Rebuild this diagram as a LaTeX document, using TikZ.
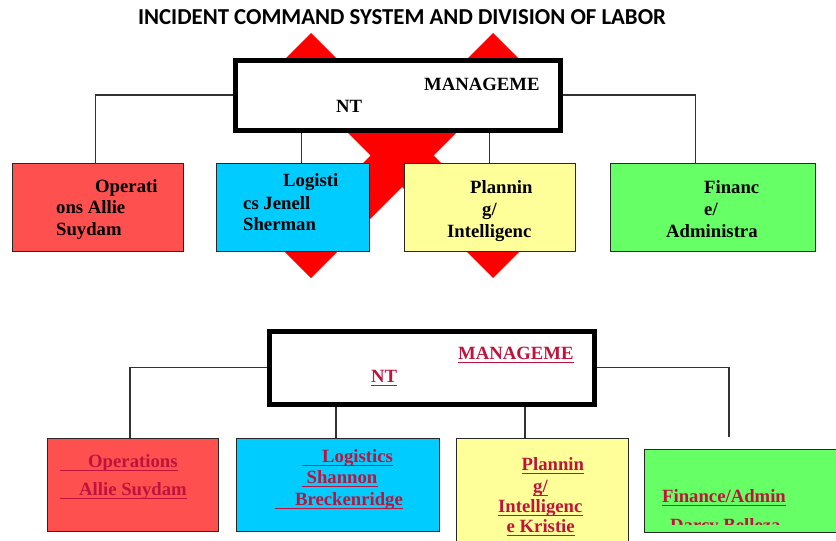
\documentclass[tikz,border=0pt]{standalone}
\usepackage{fontspec}
\setmainfont{Liberation Serif}
\newfontfamily\titlefont{Carlito}
\usetikzlibrary{backgrounds}
\definecolor{opsred}{RGB}{255,80,80}
\definecolor{logcyan}{RGB}{0,204,255}
\definecolor{planyel}{RGB}{255,255,153}
\definecolor{fingreen}{RGB}{102,255,102}
\definecolor{crim}{RGB}{190,20,60}
\definecolor{boxline}{RGB}{40,40,40}
\definecolor{linegray}{RGB}{50,50,50}
\begin{document}
\begin{tikzpicture}[x=1pt,y=-1pt,
  box/.style={draw=boxline, line width=1pt, inner sep=0, anchor=north west},
  mgmt/.style={draw=black, line width=5pt, fill=white, inner sep=0, anchor=north west, minimum width=325pt},
  txt/.style={anchor=base west, inner sep=0, font=\fontsize{18.7}{20}\selectfont\bfseries},
  rtxt/.style={txt, text=crim},
  link/.style={draw=linegray, line width=1.1pt},
  ul/.style={draw=crim, line width=1.2pt}]
\useasboundingbox (0,0) rectangle (836,541);
\clip (0,0) rectangle (836,541);

% title
\node[anchor=base, inner sep=0, font=\titlefont\fontsize{22.8}{24}\selectfont\bfseries] (title) at (402,24) {INCIDENT COMMAND SYSTEM AND DIVISION OF LABOR};

% ---------- top chart ----------
\node[mgmt, minimum height=70pt] (m1) at (232.5,57.5) {};
\node[box, fill=opsred, minimum width=171pt, minimum height=88pt] (ops1) at (11.5,162.5) {};
\node[box, fill=logcyan, minimum width=153pt, minimum height=88pt] (log1) at (215.5,162.5) {};
\node[box, fill=planyel, minimum width=171pt, minimum height=88pt] (plan1) at (403.5,162.5) {};
\node[box, fill=fingreen, minimum width=205pt, minimum height=88pt] (fin1) at (609.5,162.5) {};

\node[txt] (m1a) at (424,90) {MANAGEME};
\node[txt] (m1b) at (336,112) {NT};
\node[txt] (o1a) at (95,192) {Operati};
\node[txt] (o1b) at (56,213) {ons Allie};
\node[txt] (o1c) at (56,235) {Suydam};
\node[txt] (l1a) at (283,186) {Logisti};
\node[txt] (l1b) at (243,209) {cs Jenell};
\node[txt] (l1c) at (243,230) {Sherman};
\node[txt] (p1a) at (470,193) {Plannin};
\node[txt] (p1b) at (482,215) {g/};
\node[txt] (p1c) at (447,237) {Intelligenc};
\node[txt] (f1a) at (704,193) {Financ};
\node[txt] (f1b) at (704,215) {e/};
\node[txt] (f1c) at (666,237) {Administra};

% ---------- bottom chart ----------
\node[mgmt, minimum height=73pt] (m2) at (266.5,328.5) {};
\node[box, fill=opsred, minimum width=171pt, minimum height=93pt] (ops2) at (46.5,437.5) {};
\node[box, fill=logcyan, minimum width=203pt, minimum height=93pt] (log2) at (235.5,437.5) {};
\node[box, fill=planyel, minimum width=172pt, minimum height=120pt] (plan2) at (455.5,437.5) {};
\node[box, fill=fingreen, minimum width=210pt, minimum height=83pt] (fin2) at (643.5,448.5) {};
\coordinate (finend) at (729,437);

\node[rtxt] (m2a) at (458,359) {MANAGEME};
\node[rtxt] (m2b) at (371,382) {NT};
\node[rtxt] (o2a) at (88,467) {Operations};
\node[rtxt] (o2b) at (79,495) {Allie Suydam};
\node[rtxt] (l2a) at (322,462) {Logistics};
\node[rtxt] (l2b) at (306.5,483) {Shannon};
\node[rtxt] (l2c) at (295,505) {Breckenridge};
\node[rtxt] (p2a) at (521.5,470) {Plannin};
\node[rtxt] (p2b) at (533,492) {g/};
\node[rtxt] (p2c) at (498,512) {Intelligenc};
\node[rtxt] (p2d) at (506.5,532) {e Kristie};
\node[rtxt] (f2a) at (662,502) {Finance/Admin};
\begin{scope}
\clip (644,440) rectangle (836,524);
\node[rtxt] (f2b) at (670,531) {Darcy Belleza};
\end{scope}

% underlines
\foreach \n/\s in {m2a/0, m2b/0, o2a/28, o2b/19, l2a/20, l2b/5, l2c/20, p2a/0, p2b/0, p2c/0, p2d/0, f2a/0}{
  \draw[ul] ([xshift=-\s pt,yshift=-3.5pt]\n.base west) -- ([yshift=-3.5pt]\n.base east);
}

% ---------- background: red X and connectors ----------
\begin{pgfonlayer}{background}
\fill[red] (402,124) -- (493,33) -- (524.5,64.5) -- (433.5,155.5) -- (524.5,246.5)
  -- (493,278) -- (402,187) -- (311,278) -- (279.5,246.5) -- (370.5,155.5)
  -- (279.5,64.5) -- (311,33) -- cycle;
\draw[link] (m1.west) -| ([xshift=-2pt]ops1.north);
\draw[link] (m1.east) -| ([xshift=-17pt]fin1.north);
\draw[link] ([xshift=9pt]log1.north) -- ([xshift=9pt]log1.north |- m1.south);
\draw[link] (plan1.north) -- (plan1.north |- m1.south);
\draw[link] (m2.west) -| ([xshift=-2.5pt]ops2.north);
\draw[link] (m2.east) -| (finend);
\draw[link] ([xshift=-1.5pt]log2.north) -- ([xshift=-1.5pt]log2.north |- m2.south);
\draw[link] ([xshift=-17pt]plan2.north) -- ([xshift=-17pt]plan2.north |- m2.south);
\end{pgfonlayer}
\end{tikzpicture}
\end{document}
